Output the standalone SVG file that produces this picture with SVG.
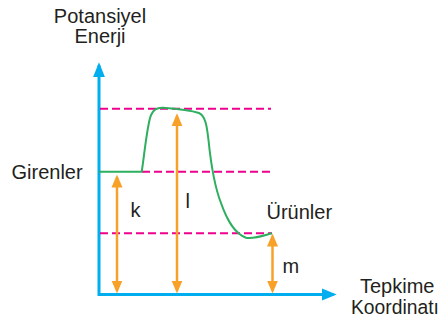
<svg xmlns="http://www.w3.org/2000/svg" width="441" height="320" viewBox="0 0 441 320">
<style>
text{font-family:"Liberation Sans",Arial,sans-serif;font-size:20px;fill:#231f20}
.dash{stroke:#ec008c;stroke-width:2;stroke-dasharray:8 4;fill:none}
.orange{stroke:#f7a128;stroke-width:2.5;fill:none;marker-start:url(#oh);marker-end:url(#oh)}
.axis{stroke:#00aeef;stroke-width:3;fill:none}
</style>
<defs>
<marker id="oh" markerUnits="userSpaceOnUse" markerWidth="14" markerHeight="12" refX="10" refY="5.5" orient="auto-start-reverse" viewBox="0 0 14 11">
<path d="M0,0 L13,5.5 L0,11 z" fill="#f7a128"/>
</marker>
<marker id="bh" markerUnits="userSpaceOnUse" markerWidth="16" markerHeight="13" refX="12" refY="6" orient="auto-start-reverse" viewBox="0 0 16 12">
<path d="M0,0 L15,6 L0,12 z" fill="#00aeef"/>
</marker>
</defs>
<g id="axes">
<path class="axis" d="M99,65.3 L99,294.5 L333.7,294.5" marker-start="url(#bh)" marker-end="url(#bh)"/>
</g>
<g id="guides">
<line class="dash" x1="100" y1="108.7" x2="271" y2="108.7"/>
<line class="dash" x1="142" y1="171.7" x2="273" y2="171.7"/>
<line class="dash" x1="100" y1="233.3" x2="272" y2="233.3"/>
</g>
<g id="curve">
<path d="M99,171.7 L141.7,171.7 C144,158 146,134 150,118 C153,109 157,107.5 163,107.7 C175,108.5 190,110 199,113 C206,116 207,128 208.5,140 C210.5,160 214,185 221,203 C227,220 234,233 246,237.8 C256,239 265,235 272,233.3" fill="none" stroke="#2eae5f" stroke-width="2"/>
</g>
<g id="connectors">
<line class="orange" x1="117" y1="177.5" x2="117" y2="290.5"/>
<line class="orange" x1="177" y1="116.3" x2="177" y2="290.5"/>
<line class="orange" x1="272.5" y1="236.5" x2="272.5" y2="290.5"/>
</g>
<g id="labels">
<text x="100" y="23.3" text-anchor="middle">Potansiyel</text>
<text x="100" y="43.3" text-anchor="middle">Enerji</text>
<text x="11.5" y="179.3">Girenler</text>
<text x="130.5" y="216.7">k</text>
<text x="185.5" y="208">l</text>
<text x="266.5" y="219.3">Ürünler</text>
<text x="282.5" y="273.3">m</text>
<text x="360" y="293">Tepkime</text>
<text x="351" y="314" style="font-size:19.3px">Koordinatı</text>
</g>
</svg>
